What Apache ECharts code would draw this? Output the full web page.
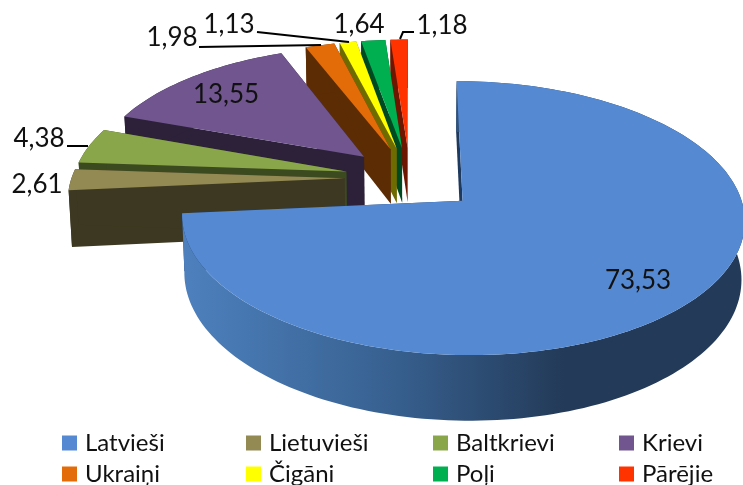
<!DOCTYPE html>
<html><head><meta charset="utf-8">
<style>html,body{margin:0;padding:0;background:#fff}#c{width:743px;height:485px}</style>
<script src="https://cdn.jsdelivr.net/npm/echarts@6/dist/echarts.min.js"></script>
</head><body><div id="c"></div>
<script>
const categories = ['Latvieši','Lietuvieši','Baltkrievi','Krievi','Ukraiņi','Čigāni','Poļi','Pārējie'];
const values = [73.53,2.61,4.38,13.55,1.98,1.13,1.64,1.18];
const topColors = ['#558ad3','#938953','#8aa64a','#70558f','#e36c09','#ffff00','#00b050','#ff3300'];
const wallColors = ['#1f3a5f','#3d3821','#3c4a20','#2c2139','#5c2c04','#6e6c00','#004a22','#6e1600'];
const explodeBy = [0.255,0.24,0.24,0.24,0.24,0.24,0.24,0.24];
const labelCenters = [[638,281],[37,185],[39,139],[226,95],[172,38],[229,25],[359,25],[442,26]];
const leaders = [null,null,[[67,146],[88,146]],null,[[199,47],[321,45]],[[257,32],[349,42]],null,[[414,32],[403,32],[400,39]]];
const legendLeft = [62,246,433,619];
const legendTop = [431,462];

const CX=410, CY=178, R=273, H=129, K=0.125, DEPTH=56, SHRINK=0.99, START=0;
const total = values.reduce((a,b)=>a+b,0);
function project(x,d,low){
  const p=1/(1+K*d);
  const sx=CX+R*x*p, sy=CY-H*d*p;
  return low?[CX+(sx-CX)*SHRINK, sy+DEPTH*p]:[sx,sy];
}
function sliceGeom(i){
  let before=0; for(let j=0;j<i;j++) before+=values[j];
  const a0=START+before/total*360, a1=START+(before+values[i])/total*360;
  const mid=(a0+a1)/2*Math.PI/180;
  const ox=explodeBy[i]*Math.sin(mid), od=explodeBy[i]*Math.cos(mid);
  const arc=[]; const n=Math.max(2,Math.ceil((a1-a0)/1.5));
  for(let k=0;k<=n;k++){const t=(a0+(a1-a0)*k/n)*Math.PI/180; arc.push([ox+Math.sin(t),od+Math.cos(t)]);}
  return {apex:[ox,od],arc};
}
function fmt(v){return v.toFixed(2).replace('.',',');}
function renderSlice(i){
  return function(params,api){
    const g=sliceGeom(i), order=(categories.length-i)*10;
    const P=q=>project(q[0],q[1],false), B=q=>project(q[0],q[1],true);
    const top=[P(g.apex)].concat(g.arc.map(P));
    const arcT=g.arc.map(P), arcB=g.arc.map(B);
    const children=[];
    const wallFill = i===0
      ? new echarts.graphic.LinearGradient(185,0,565,0,[{offset:0,color:'#4d80bd'},{offset:0.55,color:'#37608f'},{offset:1,color:'#233a58'}],true)
      : wallColors[i];
    [g.arc[0],g.arc[g.arc.length-1]].forEach(e=>{
      children.push({type:'polygon',z2:order,shape:{points:[P(g.apex),P(e),B(e),B(g.apex)]},style:{fill:wallColors[i]}});
    });
    children.push({type:'polygon',z2:order+1,shape:{points:arcT.concat(arcB.slice().reverse())},style:{fill:wallFill}});
    children.push({type:'polygon',z2:order+2,shape:{points:top},style:{fill:api.visual('color')}});
    if(leaders[i]) children.push({type:'polyline',z2:1000,shape:{points:leaders[i]},style:{stroke:'#000',lineWidth:2,fill:null}});
    children.push({type:'text',z2:1001,x:labelCenters[i][0],y:labelCenters[i][1],style:{text:fmt(api.value(0)),font:'26px Lato',fill:'#111',align:'center',verticalAlign:'middle'}});
    return {type:'group',children};
  };
}
const series=categories.map((name,i)=>({
  type:'custom',name,coordinateSystem:'none',silent:true,animation:false,
  itemStyle:{color:topColors[i]},data:[[values[i]]],renderItem:renderSlice(i)
}));
const legend=categories.map((name,i)=>({
  orient:'horizontal',left:legendLeft[i%4],top:legendTop[Math.floor(i/4)],padding:0,itemWidth:15,itemHeight:15,
  icon:'rect',selectedMode:false,data:[name],
  textStyle:{fontFamily:'Lato',fontSize:24,color:'#111',padding:[0,0,0,3]}
}));
const chart=echarts.init(document.getElementById('c'),null,{renderer:'canvas'});
chart.setOption({animation:false,backgroundColor:'#fff',legend,series});
</script></body></html>
